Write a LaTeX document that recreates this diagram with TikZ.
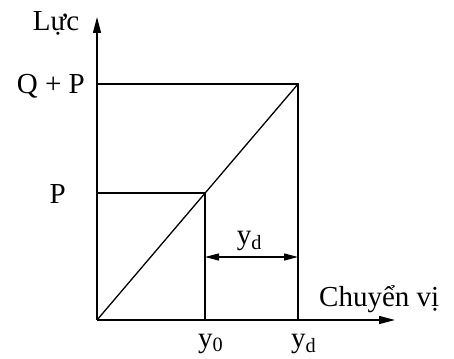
\documentclass[tikz,border=0pt]{standalone}
\usepackage{fontspec}
\setmainfont{Liberation Serif}
\usetikzlibrary{positioning, arrows.meta, calc}
\tikzset{
  axis/.style={-{Triangle[length=16pt, width=8pt]}, line width=1.3pt},
  guide/.style={line width=1.3pt},
  dimline/.style={{Triangle[length=14pt, width=7pt]}-{Triangle[length=14pt, width=7pt]}, line width=1.3pt},
  lbl/.style={inner sep=0pt, font=\fontsize{29}{32}\selectfont},
}

\begin{document}
\begin{tikzpicture}[x=1pt, y=-1pt]
  \useasboundingbox (0,0) rectangle (454,358);
  \coordinate (o) at (97,320);
  \coordinate (ytip) at (97,17);
  \coordinate (xtip) at (395,320);
  \coordinate (qp) at (97,84);
  \coordinate (p) at (97,193);
  \coordinate (top) at (298,84);
  \coordinate (knee) at (205,193);
  \coordinate (y0) at (205,320);
  \coordinate (yd) at (298,320);
  \coordinate (dl) at (205,257);
  \coordinate (dr) at (298,257);
  \foreach \b in {ytip, xtip} \draw[axis] (o) -- (\b);
  \draw[guide] (qp) -- (top) -- (yd);
  \draw[guide] (p) -- (knee) -- (y0);
  \draw[guide] (o) -- (top);
  \draw[dimline] (dl) -- (dr);
  \node[lbl, anchor=base] (ldim) at ($(dl)!0.5!(dr)+(-2,-13)$) {y\textsubscript{d}};
  \node[lbl, anchor=base] (lforce) at ($(ytip)+(-41,14)$) {Lực};
  \node[lbl, anchor=base west] (ldisp) at ($(xtip)+(-76,-14)$) {Chuyển vị};
  \node[lbl, anchor=base east] (lqp) at ($(qp)+(-12,10)$) {Q + P};
  \node[lbl, anchor=base east] (lp) at ($(p)+(-31,10)$) {P};
  \node[lbl, anchor=base west] (ly0) at ($(y0)+(-7,27)$) {y\textsubscript{0}};
  \node[lbl, anchor=base west] (lyd) at ($(yd)+(-7,27)$) {y\textsubscript{d}};
\end{tikzpicture}
\end{document}
